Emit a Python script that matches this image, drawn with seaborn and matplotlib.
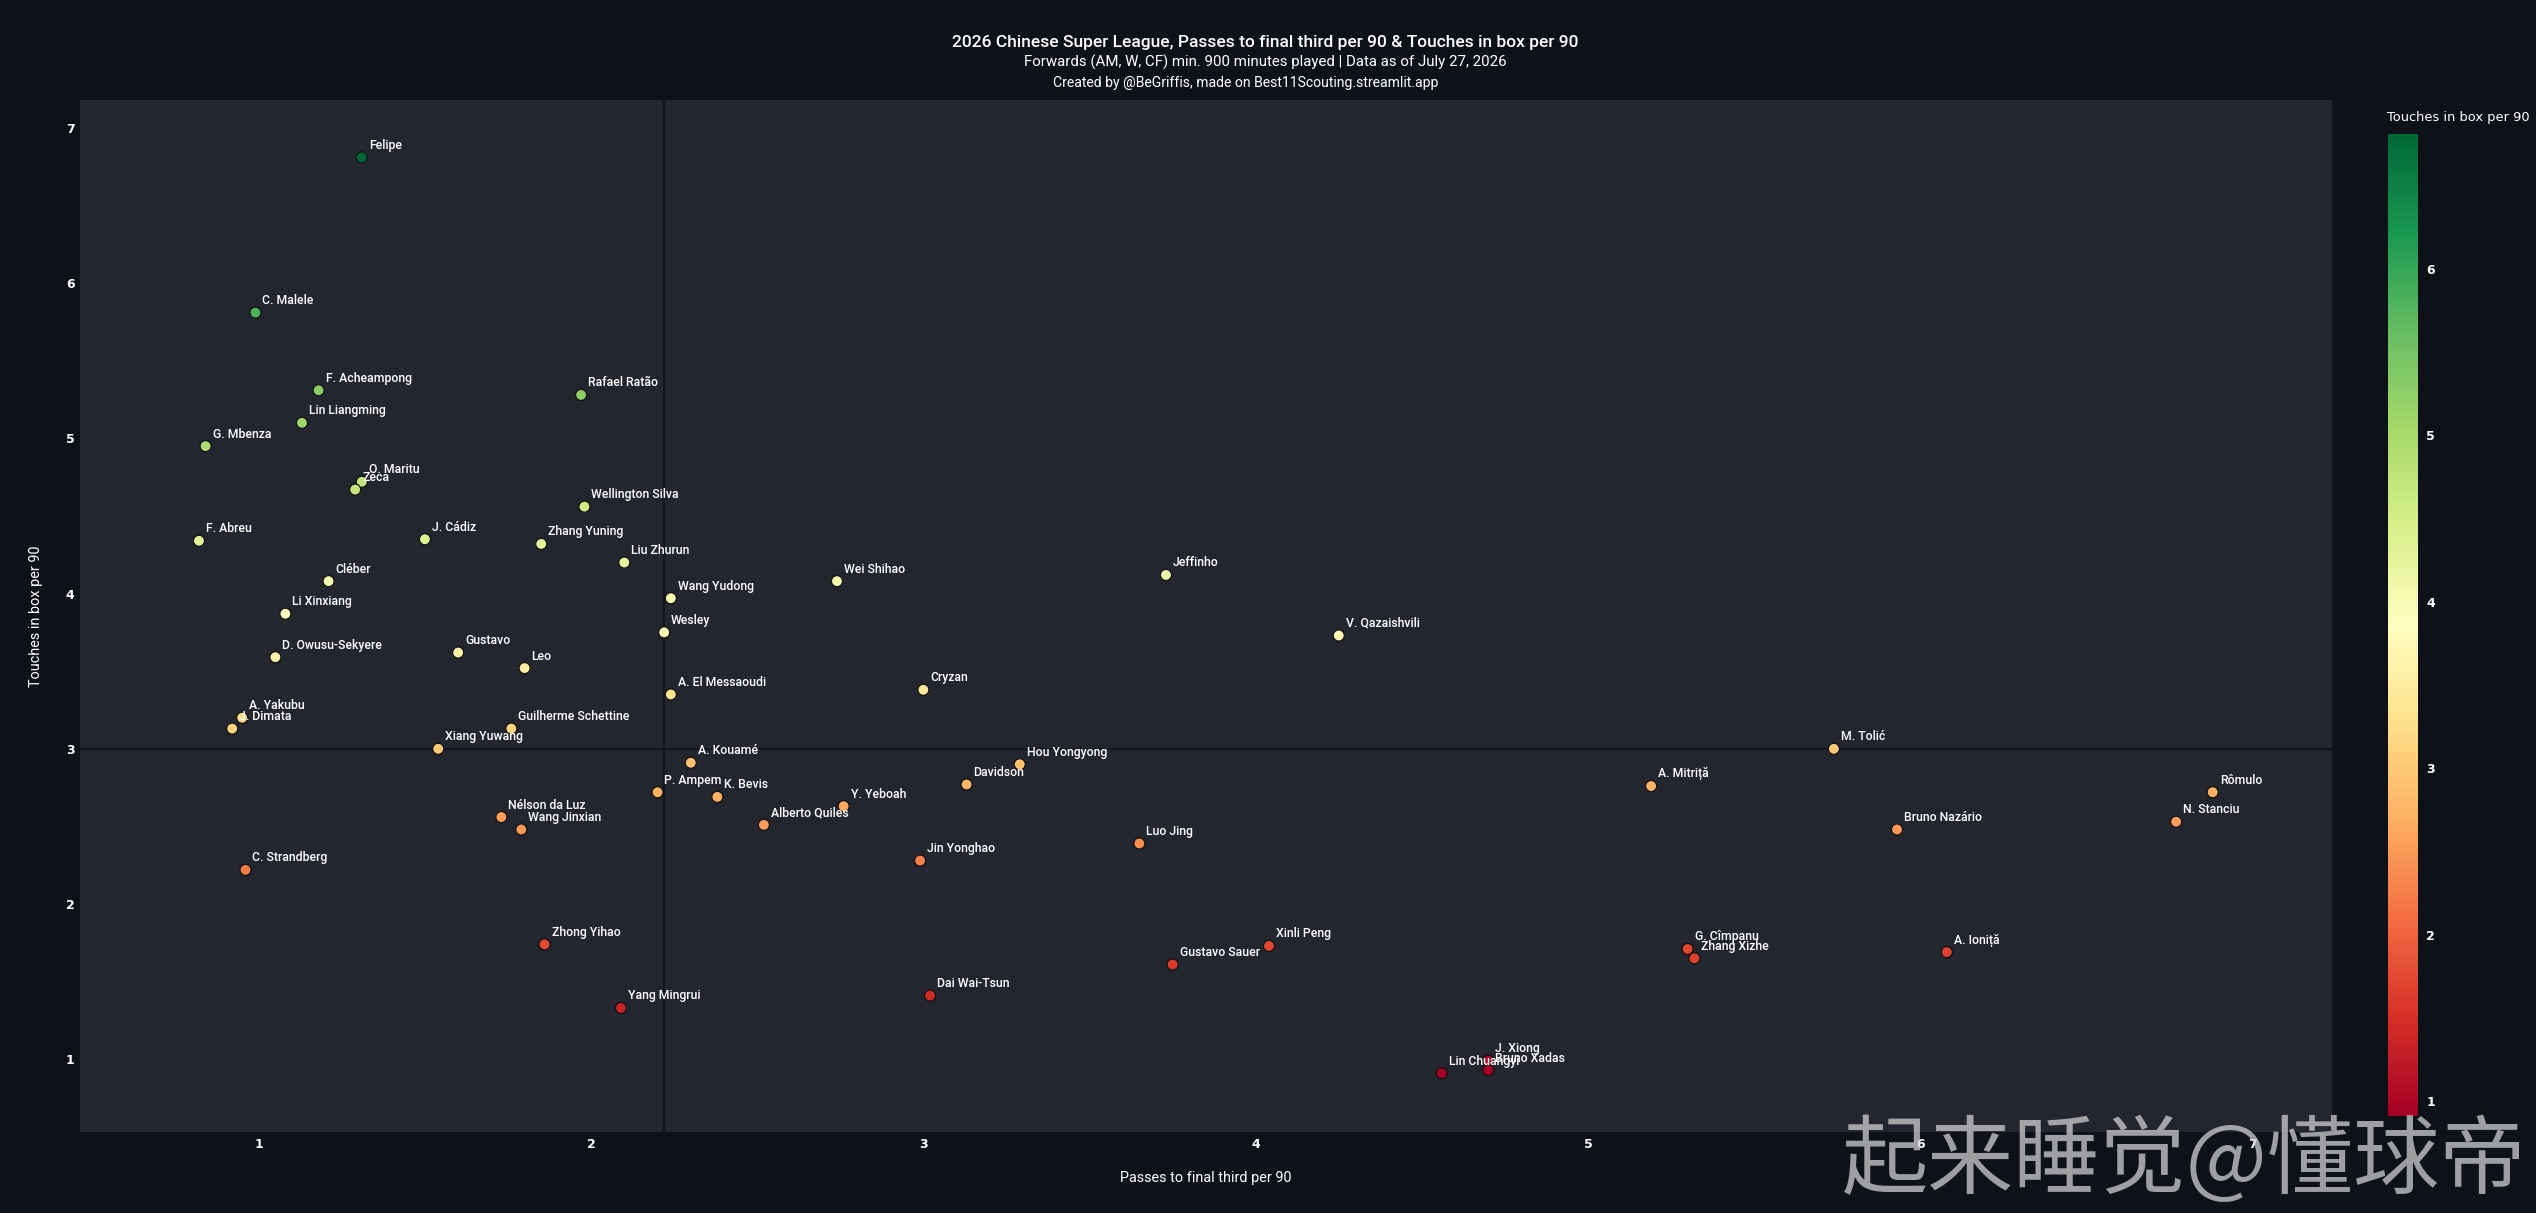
import numpy as np
import pandas as pd
import matplotlib
matplotlib.use("Agg")
import matplotlib.pyplot as plt
import seaborn as sns
from matplotlib.colors import Normalize
from matplotlib.cm import ScalarMappable

players = ["Felipe", "C. Malele", "F. Acheampong", "Rafael Ratão", "Lin Liangming", "G. Mbenza",
           "O. Maritu", "Zeca", "Wellington Silva", "J. Cádiz", "F. Abreu", "Zhang Yuning",
           "Liu Zhurun", "Jeffinho", "Cléber", "Wei Shihao", "Wang Yudong", "Li Xinxiang",
           "Wesley", "V. Qazaishvili", "Gustavo", "D. Owusu-Sekyere", "Leo", "Cryzan",
           "A. El Messaoudi", "A. Yakubu", "J. Dimata", "Guilherme Schettine", "Xiang Yuwang",
           "M. Tolić", "A. Kouamé", "Hou Yongyong", "Davidson", "A. Mitriță", "Rômulo",
           "P. Ampem", "K. Bevis", "Y. Yeboah", "Nélson da Luz", "N. Stanciu", "Alberto Quiles",
           "Wang Jinxian", "Bruno Nazário", "Luo Jing", "Jin Yonghao", "C. Strandberg",
           "Zhong Yihao", "Xinli Peng", "G. Cîmpanu", "A. Ioniță", "Zhang Xizhe",
           "Gustavo Sauer", "Dai Wai-Tsun", "Yang Mingrui", "J. Xiong", "Bruno Xadas",
           "Lin Chuangyi"]
passes_final_third = [1.31, 0.99, 1.18, 1.97, 1.13, 0.84,
                      1.31, 1.29, 1.98, 1.50, 0.82, 1.85,
                      2.10, 3.73, 1.21, 2.74, 2.24, 1.08,
                      2.22, 4.25, 1.60, 1.05, 1.80, 3.00,
                      2.24, 0.95, 0.92, 1.76, 1.54,
                      5.74, 2.30, 3.29, 3.13, 5.19, 6.88,
                      2.20, 2.38, 2.76, 1.73, 6.77, 2.52,
                      1.79, 5.93, 3.65, 2.99, 0.96,
                      1.86, 4.04, 5.30, 6.08, 5.32,
                      3.75, 3.02, 2.09, 4.70, 4.70,
                      4.56]
touches_in_box = [6.81, 5.81, 5.31, 5.28, 5.10, 4.95,
                  4.72, 4.67, 4.56, 4.35, 4.34, 4.32,
                  4.20, 4.12, 4.08, 4.08, 3.97, 3.87,
                  3.75, 3.73, 3.62, 3.59, 3.52, 3.38,
                  3.35, 3.20, 3.13, 3.13, 3.00,
                  3.00, 2.91, 2.90, 2.77, 2.76, 2.72,
                  2.72, 2.69, 2.63, 2.56, 2.53, 2.51,
                  2.48, 2.48, 2.39, 2.28, 2.22,
                  1.74, 1.73, 1.71, 1.69, 1.65,
                  1.61, 1.41, 1.33, 0.99, 0.93,
                  0.91]
x_ticks = [1, 2, 3, 4, 5, 6, 7]
y_ticks = [1, 2, 3, 4, 5, 6, 7]
cbar_ticks = [1, 2, 3, 4, 5, 6]

title = "2026 Chinese Super League, Passes to final third per 90 & Touches in box per 90"
subtitle = "Forwards (AM, W, CF) min. 900 minutes played | Data as of July 27, 2026"
credit = "Created by @BeGriffis, made on Best11Scouting.streamlit.app"
x_label = "Passes to final third per 90"
y_label = "Touches in box per 90"
watermark = "起来睡觉@懂球帝"

df = pd.DataFrame({"player": players, "x": passes_final_third, "y": touches_in_box})

sns.set_theme(style="dark")
plt.rcParams["font.family"] = ["Roboto", "DejaVu Sans"]

PAPER = "#0e1117"
PLOT = "#24262f"
W, H = 2536, 1213
fig = plt.figure(figsize=(W / 100, H / 100), dpi=100, facecolor=PAPER)
ax = fig.add_axes([80 / W, 1 - 1132 / H, (2332 - 80) / W, (1132 - 100) / H])
ax.set_facecolor(PLOT)

vmin, vmax = df["y"].min(), df["y"].max()
norm = Normalize(vmin=vmin, vmax=vmax)
cmap = plt.get_cmap("RdYlGn")

# median reference lines
ax.axvline(df["x"].median(), color="#101216", lw=1.1, zorder=1)
ax.axhline(df["y"].median(), color="#101216", lw=1.1, zorder=1)

sns.scatterplot(data=df, x="x", y="y", hue="y", palette=cmap, hue_norm=norm,
                s=64, edgecolor="#111111", linewidth=0.9, legend=False, ax=ax, zorder=3)

for _, r in df.iterrows():
    ax.annotate(r["player"], (r["x"], r["y"]), xytext=(5, 4), textcoords="offset points",
                ha="left", va="bottom", color="white", fontsize=8.8, fontweight="medium",
                zorder=4)

ax.set_xlim(0.462, 7.239)
ax.set_ylim(0.531, 7.180)
ax.set_xticks(x_ticks)
ax.set_yticks(y_ticks)
ax.grid(False)
for s in ax.spines.values():
    s.set_visible(False)
ax.tick_params(axis="x", length=0, colors="white", pad=4)
ax.tick_params(axis="y", length=0, colors="white", pad=4)
for lab in ax.get_xticklabels() + ax.get_yticklabels():
    lab.set_fontfamily("DejaVu Sans")
    lab.set_fontweight("bold")
    lab.set_fontsize(9)
ax.set_xlabel(x_label, color="white", fontsize=10.4)
ax.set_ylabel(y_label, color="white", fontsize=10.4)
ax.xaxis.set_label_coords(0.5, (1132 - 1171) / 1032)
ax.yaxis.set_label_coords((43 - 80) / 2252, 0.5)

# colorbar
cax = fig.add_axes([2388 / W, 1 - 1116 / H, 30 / W, 982 / H])
sm = ScalarMappable(norm=norm, cmap=cmap)
cb = fig.colorbar(sm, cax=cax)
cb.outline.set_visible(False)
cb.set_ticks(cbar_ticks)
cax.tick_params(length=0, colors="white", pad=6)
for lab in cax.get_yticklabels():
    lab.set_fontfamily("DejaVu Sans")
    lab.set_fontweight("bold")
    lab.set_fontsize(9)
fig.text(2387 / W, 1 - 118 / H, y_label, color="white", fontsize=9.4,
         family="DejaVu Sans", ha="left", va="center")

# titles
fig.text(0.499, 1 - 42 / H, title, color="white", fontsize=12.5, fontweight="medium",
         ha="center", va="center")
fig.text(0.499, 1 - 62 / H, subtitle, color="white", fontsize=10.8, ha="center", va="center")
fig.text(1246 / W, 1 - 83 / H, credit, color="white", fontsize=10.1, ha="center", va="center")

# watermark
fig.text(2526 / W, 1 - 1163 / H, watermark, color="#d0d0d0", alpha=0.75, fontsize=62,
         family=["Noto Sans CJK SC", "DejaVu Sans"], ha="right", va="center", zorder=10)

fig.savefig("out.png", dpi=100, facecolor=PAPER)
